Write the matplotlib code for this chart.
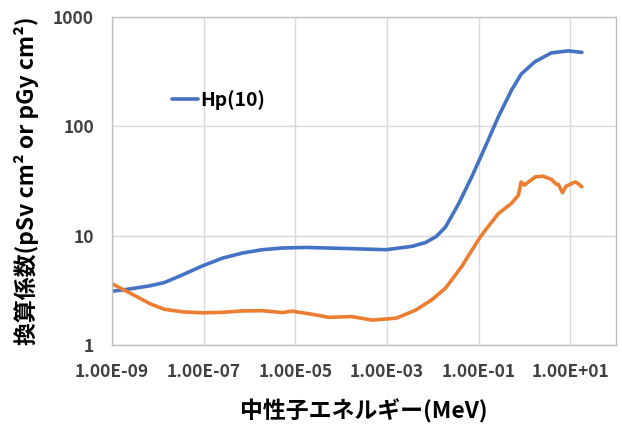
import numpy as np
import matplotlib
matplotlib.use("Agg")
import matplotlib.pyplot as plt

plt.rcParams['font.family'] = ['Noto Sans CJK JP', 'DejaVu Sans']

# energy (MeV) and conversion coefficients
hp_energy = [1e-9, 2.5e-9, 6.8e-9, 1.4e-8, 3.5e-8, 9.5e-8, 2.6e-7, 7.1e-7, 1.9e-6,
             5.2e-6, 1.7e-5, 1.2e-4, 9.5e-4, 3.5e-3, 7e-3, 1.2e-2, 1.9e-2,
             3.7e-2, 7.1e-2, 0.14, 0.27, 0.52, 0.85, 1.7, 3.9, 9.1, 18.0]
hp_value = [3.1, 3.26, 3.48, 3.73, 4.39, 5.3, 6.24, 6.94, 7.44,
            7.71, 7.8, 7.64, 7.44, 7.98, 8.66, 9.84, 12.0,
            19.7, 34.5, 65, 122, 213, 300, 390, 470, 490, 475]

kerma_energy = [1e-9, 2.5e-9, 6.8e-9, 1.4e-8, 3.5e-8, 9.5e-8, 2.6e-7, 7.1e-7,
                1.9e-6, 5.2e-6, 8.5e-6, 2e-5, 5.5e-5, 1.7e-4, 4.7e-4, 1.6e-3,
                4.3e-3, 9.5e-3, 1.9e-2, 4.3e-2, 0.1, 0.14, 0.27, 0.52, 0.74,
                0.85, 1.0, 1.23, 1.74, 2.57, 3.9, 5.0, 5.5, 6.8, 8.1, 12.9,
                14.8, 18.0]
kerma_value = [3.63, 2.98, 2.38, 2.12, 2.01, 1.97, 1.99, 2.05,
               2.06, 1.98, 2.04, 1.93, 1.79, 1.82, 1.69, 1.76,
               2.09, 2.59, 3.31, 5.23, 9.2, 11.2, 15.9, 19.7, 23.4,
               31, 29, 31, 34.5, 35, 32.7, 29.5, 29.5, 24.7, 28.3, 31,
               30, 28]

xticks = [1e-9, 1e-7, 1e-5, 1e-3, 1e-1, 1e1]
xtick_labels = ['1.00E-09', '1.00E-07', '1.00E-05', '1.00E-03', '1.00E-01', '1.00E+01']
yticks = [1, 10, 100, 1000]
ytick_labels = ['1', '10', '100', '1000']

fig = plt.figure(figsize=(6.22, 4.25), dpi=100)
ax = fig.add_axes([112 / 622, 1 - 345 / 425, 504 / 622, 328 / 425])

ax.plot(hp_energy, hp_value, color='#4472C4', lw=2.6, label='Hp(10)',
        solid_capstyle='round', solid_joinstyle='round')
ax.plot(kerma_energy, kerma_value, color='#ED7D31', lw=2.6,
        solid_capstyle='round', solid_joinstyle='round')

ax.set_xscale('log')
ax.set_yscale('log')
ax.set_xlim(1e-9, 1e2)
ax.set_ylim(1, 1000)
ax.set_xticks(xticks)
ax.set_xticklabels(xtick_labels)
ax.set_yticks(yticks)
ax.set_yticklabels(ytick_labels)
ax.minorticks_off()
ax.tick_params(length=0, labelsize=12.5)
ax.tick_params(axis='x', pad=13)
ax.tick_params(axis='y', pad=13)
for lab in ax.get_xticklabels() + ax.get_yticklabels():
    lab.set_fontweight('bold')
    lab.set_color('#404040')
ax.grid(True, color='#d9d9d9', lw=1)
for s in ax.spines.values():
    s.set_color('#bfbfbf')
    s.set_linewidth(1)

ax.set_xlabel('中性子エネルギー(MeV)', fontsize=16.5, fontweight='bold', labelpad=13)
ax.set_ylabel('換算係数(pSv cm² or pGy cm²)', fontsize=16.5, fontweight='bold',
              labelpad=10)

leg = ax.legend(loc='upper left', bbox_to_anchor=(0.085, 0.83), frameon=False,
                handlelength=1.3, handletextpad=0.15,
                prop={'weight': 'bold', 'size': 14})

fig.savefig('out.png', dpi=100)
